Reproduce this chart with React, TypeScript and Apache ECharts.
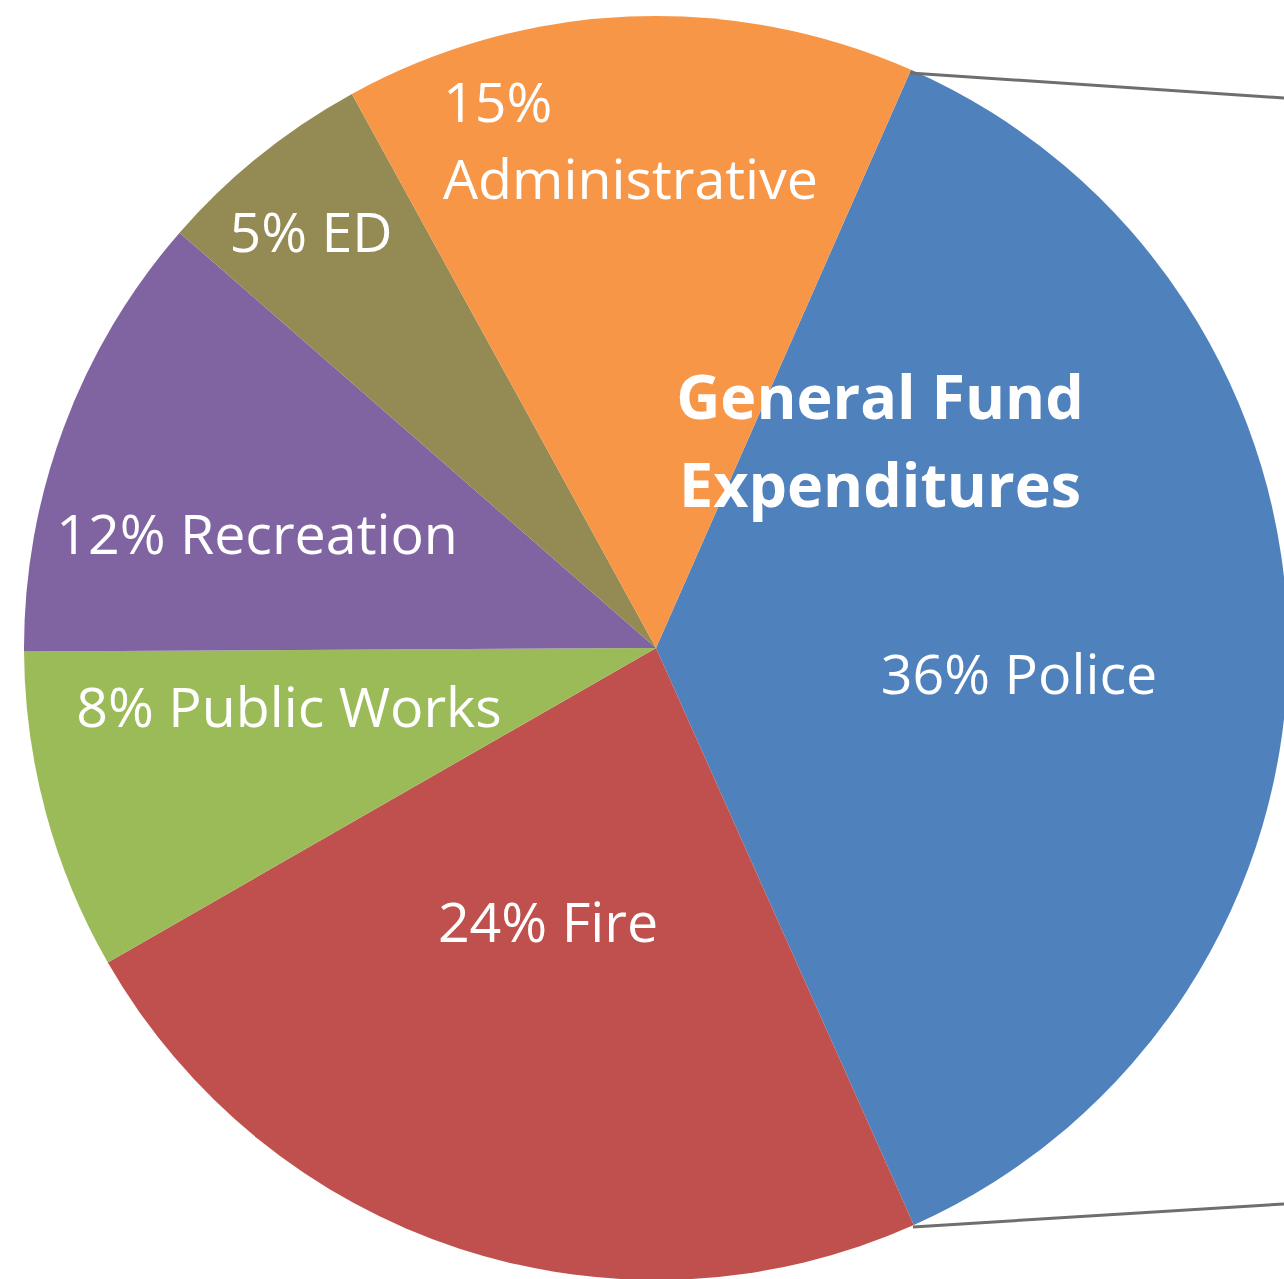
import React, { useEffect, useRef } from "react";
import * as echarts from "echarts";

const categories = ["Police", "Fire", "Public Works", "Recreation", "ED", "Administrative"];
const values = [36.7, 23.4, 8.2, 11.5, 5.6, 14.6];
const percentLabels = ["36%", "24%", "8%", "12%", "5%", "15%"];
const colors = ["#4F81BD", "#C0504D", "#9BBB59", "#8064A2", "#948A54", "#F79646"];
const titleLines = ["General Fund", "Expenditures"];

// label anchor positions (centre of each text), in px
const labelPos: [number, number][] = [
  [1019, 672],
  [548, 920],
  [289, 705],
  [257, 532],
  [311, 230],
  [443, 100],
];

const FONT = "'Open Sans', 'Liberation Sans', sans-serif";
const LABEL_FONT = `500 55.5px ${FONT}`;

export default function App() {
  const ref = useRef<HTMLDivElement>(null);
  useEffect(() => {
    if (!ref.current) return;
    const chart = echarts.init(ref.current, undefined, { renderer: "svg" });
    const textEls: any[] = [];
    categories.forEach((c, i) => {
      if (c === "Administrative") {
        textEls.push({
          type: "text",
          x: labelPos[i][0],
          y: labelPos[i][1],
          z: 20,
          style: {
            text: percentLabels[i],
            fill: "#FFFFFF",
            font: LABEL_FONT,
            align: "left",
            verticalAlign: "middle",
          },
        });
        textEls.push({
          type: "text",
          x: labelPos[i][0],
          y: labelPos[i][1] + 77,
          z: 20,
          style: {
            text: c,
            fill: "#FFFFFF",
            font: LABEL_FONT,
            align: "left",
            verticalAlign: "middle",
          },
        });
        return;
      }
      textEls.push({
        type: "text",
        x: labelPos[i][0],
        y: labelPos[i][1],
        z: 20,
        style: {
          text: `${percentLabels[i]} ${c}`,
          fill: "#FFFFFF",
          font: LABEL_FONT,
          align: "center",
          verticalAlign: "middle",
        },
      });
    });

    chart.setOption({
      animation: false,
      backgroundColor: "#FFFFFF",
      series: [
        {
          type: "pie",
          center: [656, 648],
          radius: 632,
          startAngle: 66.2,
          clockwise: true,
          label: { show: false },
          labelLine: { show: false },
          itemStyle: { borderWidth: 0 },
          emphasis: { disabled: true },
          data: categories.map((c, i) => ({
            name: c,
            value: values[i],
            itemStyle: { color: colors[i] },
          })),
        },
      ],
      graphic: [
        {
          type: "line",
          z: 10,
          shape: { x1: 910, y1: 73, x2: 1284, y2: 98 },
          style: { stroke: "#6E6E6E", lineWidth: 3 },
        },
        {
          type: "line",
          z: 10,
          shape: { x1: 913, y1: 1227, x2: 1284, y2: 1204 },
          style: { stroke: "#6E6E6E", lineWidth: 3 },
        },
        ...textEls,
        {
          type: "text",
          x: 880,
          y: 395,
          z: 20,
          style: {
            text: titleLines[0],
            fill: "#FFFFFF",
            font: `700 61px ${FONT}`,
            align: "center",
            verticalAlign: "middle",
          },
        },
        {
          type: "text",
          x: 880,
          y: 483,
          z: 20,
          style: {
            text: titleLines[1],
            fill: "#FFFFFF",
            font: `700 61px ${FONT}`,
            align: "center",
            verticalAlign: "middle",
          },
        },
      ],
    });
    return () => chart.dispose();
  }, []);
  return (
    <div
      ref={ref}
      style={{ position: "fixed", left: 0, top: 0, width: 1284, height: 1279 }}
    />
  );
}
